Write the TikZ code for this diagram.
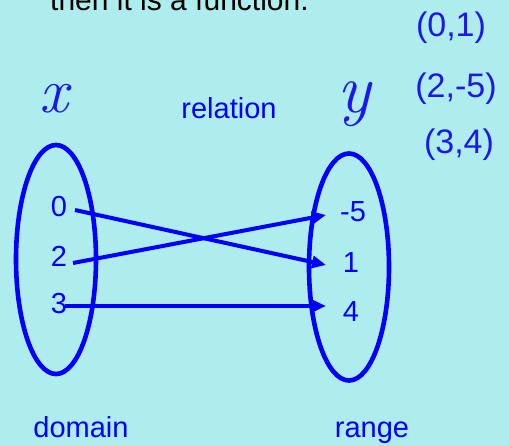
\documentclass[tikz,border=0pt]{standalone}
\usepackage{fontspec}
\setmainfont{Liberation Sans}
\newfontfamily\handfont{Liberation Sans}
\usetikzlibrary{arrows.meta,shapes.geometric}
\definecolor{bgcyan}{RGB}{174,236,237}
\definecolor{setblue}{RGB}{0,0,255}
\definecolor{penblue}{RGB}{25,25,235}
\begin{document}
\begin{tikzpicture}[x=1pt,y=-1pt,
  lbl/.style={text=setblue,font=\fontsize{29}{29}\selectfont,inner sep=0pt},
  setell/.style={draw=setblue,line width=4.6pt,ellipse,inner sep=0pt},
  maparrow/.style={draw=setblue,line width=4pt,-{Triangle[length=14pt,width=12pt]}},
  hand/.style={text=penblue,inner sep=0pt},
]
\useasboundingbox[fill=bgcyan] (0,0) rectangle (509,446);
% top text (cut off)
\node[anchor=base west,inner sep=0pt,font=\fontsize{30}{30}\selectfont] (top) at (50,11) {then it is a function.};
% ellipses
\node[setell,minimum width=80pt,minimum height=229pt] (dom) at (56,259.5) {};
\node[setell,minimum width=80pt,minimum height=227pt] (ran) at (349,267) {};
% elements
\node[lbl] (d0) at (59,207) {0};
\node[lbl] (d2) at (59,256) {2};
\node[lbl] (d3) at (59,304) {3};
\node[lbl] (rm5) at (353,212) {-5};
\node[lbl] (r1) at (351,263) {1};
\node[lbl] (r4) at (351,312) {4};
% labels
\node[lbl,anchor=base] (rel) at (229,119) {relation};
\node[lbl,anchor=base] (domlbl) at (81,437) {domain};
\node[lbl,anchor=base] (ranlbl) at (372,437) {range};
% arrows
\coordinate (s0) at (75,210);
\coordinate (s2) at (73,263);
\coordinate (s3) at (65,306);
\coordinate (e1) at (326,265);
\coordinate (em5) at (326,215);
\coordinate (e4) at (326,306);
\draw[maparrow] (s0) -- (e1);
\draw[maparrow] (s2) -- (em5);
\draw[maparrow] (s3) -- (e4);
% handwritten
\node[hand,font=\fontfamily{lmr}\fontsize{64}{64}\selectfont\itshape] (hx) at (54,99) {x};
\node[hand,font=\fontfamily{lmr}\fontsize{70}{70}\selectfont\itshape] (hy) at (354,104) {y};
\node[hand,font=\handfont\fontsize{34}{34}\selectfont] (p1) at (451,28) {(0,1)};
\node[hand,font=\handfont\fontsize{34}{34}\selectfont] (p2) at (456,89) {(2,-5)};
\node[hand,font=\handfont\fontsize{34}{34}\selectfont] (p3) at (459,145) {(3,4)};
\end{tikzpicture}
\end{document}
